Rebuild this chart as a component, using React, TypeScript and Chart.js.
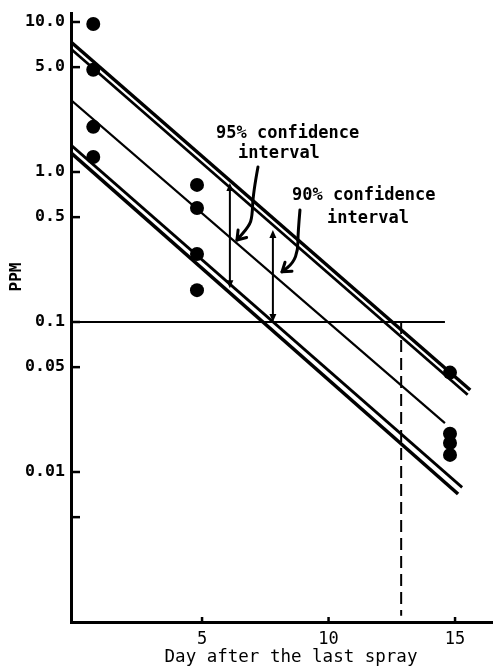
import React, { useEffect, useRef } from "react";
import { Chart, registerables } from "chart.js";

Chart.register(...registerables);

// ---- data ----
const SAMPLE_DAYS = [0.7, 0.7, 0.7, 0.7, 4.8, 4.8, 4.8, 4.8, 14.8, 14.8, 14.8, 14.8];
const SAMPLE_PPM = [9.7, 4.8, 2.0, 1.26, 0.82, 0.575, 0.284, 0.163, 0.046, 0.018, 0.0156, 0.013];

const UPPER95_DAYS = [-0.18, 15.6];
const UPPER95_PPM = [7.36, 0.0352];
const UPPER90_DAYS = [-0.18, 15.5];
const UPPER90_PPM = [6.61, 0.0327];
const FIT_DAYS = [-0.18, 14.6];
const FIT_PPM = [3.02, 0.0212];
const LOWER90_DAYS = [-0.18, 15.28];
const LOWER90_PPM = [1.51, 0.0079];
const LOWER95_DAYS = [-0.18, 15.12];
const LOWER95_PPM = [1.34, 0.00713];
const LIMIT_DAYS = [-0.18, 14.6];
const LIMIT_PPM = [0.1, 0.1];
const CROSS_DAYS = [12.87, 12.87];
const CROSS_PPM = [0.1, 0.0011];

const Y_TICKS = [0.005, 0.01, 0.05, 0.1, 0.5, 1, 5, 10];
const Y_TICK_LABELS = ["", "0.01", "0.05", "0.1", "0.5", "1.0", "5.0", "10.0"];
const X_TICKS = [5, 10, 15];
const X_TICK_LABELS = ["5", "10", "15"];

// annotations (data coordinates: [day, ppm])
const CI95_ARROW = [[6.1, 0.168], [6.1, 0.845]];
const CI90_ARROW = [[7.8, 0.1], [7.8, 0.41]];
const CI95_POINTER = [[7.21, 1.08], [7.02, 0.724], [6.98, 0.501], [6.86, 0.437], [6.38, 0.352]];
const CI90_POINTER = [[8.87, 0.558], [8.79, 0.392], [8.79, 0.302], [8.6, 0.247], [8.16, 0.216]];
const NOTE_TEXTS = ["95% confidence", "interval", "90% confidence", "interval"];
const NOTE_POS = [[5.55, 1.79], [6.42, 1.318], [8.56, 0.692], [9.94, 0.486]];

const X_TITLE = "Day after the last spray";
const Y_TITLE = "PPM";

const MONO = "'DejaVu Sans Mono', 'Liberation Mono', monospace";

function toPts(days: number[], vals: number[]) {
  return days.map((d, i) => ({ x: d, y: vals[i] }));
}

function lineSet(days: number[], vals: number[], width: number, dash: number[] = []) {
  return {
    type: "line" as const,
    data: toPts(days, vals),
    borderColor: "#000",
    borderWidth: width,
    borderDash: dash,
    pointRadius: 0,
    showLine: true,
    fill: false,
    tension: 0,
  };
}

const overlay = {
  id: "overlay",
  afterDraw(chart: any) {
    const { ctx, scales, chartArea } = chart;
    const x = scales.x;
    const y = scales.y;
    const px = (p: number[]) => [x.getPixelForValue(p[0]), y.getPixelForValue(p[1])];
    ctx.save();
    ctx.strokeStyle = "#000";
    ctx.fillStyle = "#000";
    ctx.lineCap = "butt";

    // inward tick marks
    ctx.lineWidth = 2.5;
    Y_TICKS.forEach((v) => {
      const py = y.getPixelForValue(v);
      ctx.beginPath();
      ctx.moveTo(chartArea.left, py);
      ctx.lineTo(chartArea.left + 9, py);
      ctx.stroke();
    });
    X_TICKS.forEach((v) => {
      const xx = x.getPixelForValue(v);
      ctx.beginPath();
      ctx.moveTo(xx, chartArea.bottom);
      ctx.lineTo(xx, chartArea.bottom - 5);
      ctx.stroke();
    });

    // vertical double arrows
    const vArrow = (seg: number[][]) => {
      const [x0, y0] = px(seg[0]);
      const [x1, y1] = px(seg[1]);
      ctx.lineWidth = 2;
      ctx.beginPath();
      ctx.moveTo(x0, y0 - 4);
      ctx.lineTo(x1, y1 + 4);
      ctx.stroke();
      ctx.beginPath();
      ctx.moveTo(x1, y1);
      ctx.lineTo(x1 - 3.5, y1 + 8);
      ctx.lineTo(x1 + 3.5, y1 + 8);
      ctx.closePath();
      ctx.fill();
      ctx.beginPath();
      ctx.moveTo(x0, y0);
      ctx.lineTo(x0 - 3.5, y0 - 8);
      ctx.lineTo(x0 + 3.5, y0 - 8);
      ctx.closePath();
      ctx.fill();
    };
    vArrow(CI95_ARROW);
    vArrow(CI90_ARROW);

    // curved pointers
    const curve = (pts: number[][]) => {
      const p = pts.map(px);
      ctx.lineWidth = 3;
      ctx.lineJoin = "round";
      ctx.lineCap = "round";
      ctx.beginPath();
      ctx.moveTo(p[0][0], p[0][1]);
      for (let i = 1; i < p.length - 1; i++) {
        const mx = (p[i][0] + p[i + 1][0]) / 2;
        const my = (p[i][1] + p[i + 1][1]) / 2;
        ctx.quadraticCurveTo(p[i][0], p[i][1], mx, my);
      }
      const last = p[p.length - 1];
      ctx.lineTo(last[0], last[1]);
      ctx.stroke();
      const prev = p[p.length - 2];
      const ang = Math.atan2(last[1] - prev[1], last[0] - prev[0]);
      const L = 10;
      ctx.beginPath();
      ctx.moveTo(last[0] - L * Math.cos(ang - 0.6), last[1] - L * Math.sin(ang - 0.6));
      ctx.lineTo(last[0], last[1]);
      ctx.lineTo(last[0] - L * Math.cos(ang + 0.6), last[1] - L * Math.sin(ang + 0.6));
      ctx.stroke();
    };
    curve(CI95_POINTER);
    curve(CI90_POINTER);

    // notes
    ctx.font = `bold 17px ${MONO}`;
    ctx.textAlign = "left";
    ctx.textBaseline = "middle";
    NOTE_TEXTS.forEach((t, i) => {
      const [tx, ty] = px(NOTE_POS[i]);
      ctx.fillText(t, tx, ty);
    });

    // axis titles
    ctx.font = `17.5px ${MONO}`;
    ctx.textAlign = "center";
    ctx.fillText(X_TITLE, 291, chartArea.bottom + 35);
    ctx.save();
    ctx.translate(17, 277);
    ctx.rotate(-Math.PI / 2);
    ctx.font = `bold 16px ${MONO}`;
    ctx.fillText(Y_TITLE, 0, 0);
    ctx.restore();
    ctx.restore();
  },
};

export default function App() {
  const ref = useRef<HTMLCanvasElement | null>(null);
  useEffect(() => {
    if (!ref.current) return;
    const chart = new Chart(ref.current, {
      type: "scatter",
      data: {
        datasets: [
          {
            type: "scatter",
            data: toPts(SAMPLE_DAYS, SAMPLE_PPM),
            backgroundColor: "#000",
            borderWidth: 0,
            pointRadius: 7,
          } as any,
          lineSet(UPPER95_DAYS, UPPER95_PPM, 3.5),
          lineSet(UPPER90_DAYS, UPPER90_PPM, 2.8),
          lineSet(FIT_DAYS, FIT_PPM, 2.2),
          lineSet(LOWER90_DAYS, LOWER90_PPM, 2.8),
          lineSet(LOWER95_DAYS, LOWER95_PPM, 3.5),
          lineSet(LIMIT_DAYS, LIMIT_PPM, 2.2),
          lineSet(CROSS_DAYS, CROSS_PPM, 2, [12, 6]),
        ] as any,
      },
      options: {
        animation: false,
        responsive: false,
        devicePixelRatio: 1,
        layout: { autoPadding: false, padding: { left: 0, top: 13, right: 0, bottom: 0 } },
        plugins: { legend: { display: false }, tooltip: { enabled: false }, title: { display: false } },
        scales: {
          x: {
            type: "linear",
            min: -0.18,
            max: 16.5,
            grid: { display: false, drawTicks: false },
            border: { display: true, color: "#000", width: 3 },
            afterBuildTicks: (s: any) => {
              s.ticks = X_TICKS.map((v) => ({ value: v }));
            },
            afterFit: (s: any) => {
              s.height = 45;
              s.paddingLeft = 0;
              s.paddingRight = 0;
            },
            ticks: {
              autoSkip: false,
              maxRotation: 0,
              padding: 7,
              color: "#000",
              font: { family: MONO, size: 17 },
              callback: (_v: any, i: number) => X_TICK_LABELS[i],
            },
          },
          y: {
            type: "logarithmic",
            min: 0.001,
            max: 11.48,
            grid: { display: false, drawTicks: false },
            border: { display: true, color: "#000", width: 3 },
            afterBuildTicks: (s: any) => {
              s.ticks = Y_TICKS.map((v) => ({ value: v }));
            },
            afterFit: (s: any) => {
              s.width = 71;
              s.paddingTop = 0;
              s.paddingBottom = 0;
            },
            ticks: {
              autoSkip: false,
              padding: 6,
              color: "#000",
              font: { family: MONO, size: 16.6, weight: "bold" },
              callback: (_v: any, i: number) => Y_TICK_LABELS[i],
            },
          },
        },
      } as any,
      plugins: [overlay],
    });
    return () => chart.destroy();
  }, []);
  return (
    <div style={{ position: "fixed", left: 0, top: 0, width: 493, height: 667, background: "#fff" }}>
      <canvas ref={ref} width={493} height={667} />
    </div>
  );
}
